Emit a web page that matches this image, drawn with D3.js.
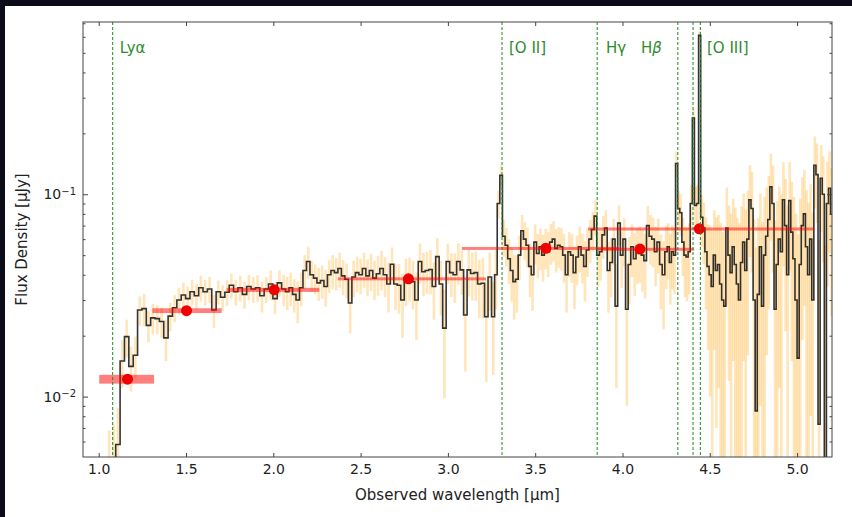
<!DOCTYPE html>
<html>
<head>
<meta charset="utf-8">
<script src="https://cdn.jsdelivr.net/npm/d3@7"></script>
<style>
  html, body { margin: 0; padding: 0; background: #fff; }
  svg { display: block; font-family: "DejaVu Sans", sans-serif; }
</style>
</head>
<body>
<div id="chart"></div>
<script>
// observed spectrum, bin centres in micron
const wave = [
  1.060, 1.085, 1.110, 1.135, 1.160, 1.185, 1.210, 1.235, 1.260, 1.285,
  1.310, 1.335, 1.360, 1.385, 1.410, 1.435, 1.460, 1.485, 1.510, 1.535,
  1.560, 1.585, 1.610, 1.635, 1.660, 1.685, 1.710, 1.735, 1.760, 1.785,
  1.810, 1.835, 1.860, 1.885, 1.910, 1.935, 1.960, 1.985, 2.010, 2.035,
  2.06, 2.08, 2.10, 2.12, 2.14, 2.16, 2.18, 2.20, 2.22, 2.24,
  2.26, 2.28, 2.30, 2.32, 2.34, 2.36, 2.38, 2.40, 2.42, 2.44,
  2.46, 2.48, 2.50, 2.52, 2.54, 2.56, 2.58, 2.60, 2.62, 2.64,
  2.66, 2.68, 2.70, 2.72, 2.74, 2.76, 2.78, 2.80, 2.82, 2.84,
  2.86, 2.88, 2.90, 2.92, 2.94, 2.96, 2.98, 3.00, 3.02, 3.04,
  3.06, 3.08, 3.10, 3.12, 3.14, 3.16, 3.18, 3.20, 3.22, 3.24,
  3.260, 3.275, 3.290, 3.305, 3.320, 3.335, 3.350, 3.365, 3.380, 3.395,
  3.410, 3.425, 3.440, 3.455, 3.470, 3.485, 3.500, 3.515, 3.530, 3.545,
  3.560, 3.575, 3.590, 3.605, 3.620, 3.635, 3.650, 3.665, 3.680, 3.695,
  3.710, 3.725, 3.740, 3.755, 3.770, 3.785, 3.800, 3.815, 3.830, 3.845,
  3.860, 3.875, 3.890, 3.905, 3.920, 3.935, 3.950, 3.965, 3.980, 3.995,
  4.010, 4.025, 4.040, 4.055, 4.070, 4.085, 4.100, 4.115, 4.130, 4.145,
  4.160, 4.175, 4.190, 4.205, 4.220, 4.235, 4.250,
  4.262, 4.274, 4.286, 4.298, 4.310, 4.322, 4.334, 4.346, 4.358, 4.370,
  4.382, 4.394, 4.406, 4.418, 4.430, 4.442, 4.454, 4.466, 4.478, 4.490,
  4.502, 4.514, 4.526, 4.538, 4.550, 4.562, 4.574, 4.586, 4.598, 4.610,
  4.622, 4.634, 4.646, 4.658, 4.670, 4.682, 4.694, 4.706, 4.718, 4.730,
  4.742, 4.754, 4.766, 4.778, 4.790, 4.802, 4.814, 4.826, 4.838, 4.850,
  4.862, 4.874, 4.886, 4.898, 4.910, 4.922, 4.934, 4.946, 4.958, 4.970,
  4.982, 4.994, 5.006, 5.018, 5.030, 5.042, 5.054, 5.066, 5.078, 5.090,
  5.102, 5.114, 5.126, 5.138, 5.150, 5.162, 5.174, 5.186, 5.198
];
// flux density in µJy
const flux = [
  0.0010, 0.0048, 0.0058, 0.0150, 0.0198, 0.0141, 0.0160, 0.0268, 0.0272, 0.0225,
  0.0245, 0.0243, 0.0235, 0.0195, 0.0250, 0.0275, 0.0300, 0.0318, 0.0305, 0.0330,
  0.0315, 0.0345, 0.0330, 0.0340, 0.0268, 0.0330, 0.0310, 0.0328, 0.0355, 0.0330,
  0.0345, 0.0320, 0.0350, 0.0340, 0.0345, 0.0315, 0.0340, 0.0360, 0.0305, 0.0365,
  0.0340, 0.0330, 0.0345, 0.0320, 0.0300, 0.0345, 0.0420, 0.0465, 0.0400, 0.0385,
  0.0365, 0.0375, 0.0350, 0.0400, 0.0420, 0.0410, 0.0430, 0.0395, 0.0380, 0.0290,
  0.0390, 0.0410, 0.0400, 0.0430, 0.0395, 0.0420, 0.0385, 0.0405, 0.0430, 0.0400,
  0.0360, 0.0451, 0.0360, 0.0355, 0.0300, 0.0380, 0.0390, 0.0370, 0.0300, 0.0465,
  0.0414, 0.0420, 0.0425, 0.0350, 0.0492, 0.0360, 0.0218, 0.0465, 0.0410, 0.0400,
  0.0465, 0.0423, 0.0253, 0.0423, 0.0406, 0.0410, 0.0360, 0.0363, 0.0248, 0.0390,
  0.0248, 0.0400, 0.0900, 0.1240, 0.0620, 0.0560, 0.0480, 0.0420, 0.0370, 0.0380,
  0.0500, 0.0660, 0.0600, 0.0560, 0.0440, 0.0400, 0.0580, 0.0510, 0.0550, 0.0500,
  0.0550, 0.0520, 0.0580, 0.0600, 0.0540, 0.0560, 0.0550, 0.0500, 0.0400, 0.0520,
  0.0500, 0.0410, 0.0490, 0.0550, 0.0500, 0.0440, 0.0530, 0.0600, 0.0670, 0.0780,
  0.0500, 0.0520, 0.0630, 0.0680, 0.0420, 0.0460, 0.0600, 0.0280, 0.0720, 0.0500,
  0.0600, 0.0270, 0.0450, 0.0550, 0.0480, 0.0520, 0.0530, 0.0500, 0.0470, 0.0700,
  0.0620, 0.0600, 0.0520, 0.0580, 0.0450, 0.0400, 0.0520,
  0.055, 0.046, 0.052, 0.050, 0.142, 0.085, 0.081, 0.058, 0.050, 0.049,
  0.052, 0.090, 0.238, 0.088, 0.090, 0.610, 0.077, 0.068, 0.052, 0.044,
  0.040, 0.035, 0.050, 0.042, 0.045, 0.036, 0.030, 0.028, 0.068, 0.050,
  0.041, 0.055, 0.045, 0.036, 0.030, 0.046, 0.058, 0.042, 0.060, 0.094,
  0.085, 0.030, 0.0085, 0.032, 0.055, 0.028, 0.050, 0.062, 0.075, 0.109,
  0.090, 0.027, 0.045, 0.060, 0.052, 0.094, 0.070, 0.040, 0.093, 0.065,
  0.048, 0.030, 0.0155, 0.045, 0.070, 0.080, 0.055, 0.040, 0.060, 0.030,
  0.139, 0.125, 0.0073, 0.120, 0.100, 0.003, 0.090, 0.107, 0.080
];
// 1-sigma flux error in µJy
const fluxErr = [
  0.0058, 0.0025, 0.0030, 0.0040, 0.0042, 0.0035, 0.0038, 0.0045, 0.0050, 0.0040,
  0.0042, 0.0040, 0.0040, 0.0045, 0.0040, 0.0042, 0.0045, 0.0048, 0.0045, 0.0048,
  0.0045, 0.0050, 0.0048, 0.0050, 0.0050, 0.0045, 0.0045, 0.0048, 0.0050, 0.0048,
  0.0050, 0.0048, 0.0050, 0.0050, 0.0052, 0.0055, 0.0050, 0.0060, 0.0050, 0.0055,
  0.0060, 0.0062, 0.0065, 0.0060, 0.0070, 0.0065, 0.0080, 0.0085, 0.0070, 0.0065,
  0.0068, 0.0070, 0.0072, 0.0075, 0.0080, 0.0075, 0.0085, 0.0078, 0.0075, 0.0085,
  0.0080, 0.0082, 0.0080, 0.0085, 0.0082, 0.0088, 0.0085, 0.0090, 0.0095, 0.0090,
  0.0100, 0.0095, 0.0092, 0.0098, 0.0105, 0.0100, 0.0095, 0.0100, 0.0110, 0.0105,
  0.0100, 0.0098, 0.0105, 0.0110, 0.0115, 0.0108, 0.0120, 0.0105, 0.0100, 0.0110,
  0.0108, 0.0105, 0.0120, 0.0110, 0.0108, 0.0112, 0.0115, 0.0120, 0.0130, 0.0125,
  0.0120, 0.0130, 0.0140, 0.0150, 0.0130, 0.0120, 0.0120, 0.0125, 0.0130, 0.0120,
  0.0125, 0.0130, 0.0128, 0.0125, 0.0130, 0.0135, 0.0130, 0.0125, 0.0128, 0.0130,
  0.0125, 0.0130, 0.0132, 0.0135, 0.0130, 0.0128, 0.0130, 0.0135, 0.0140, 0.0130,
  0.0135, 0.0140, 0.0135, 0.0140, 0.0138, 0.0145, 0.0140, 0.0145, 0.0150, 0.0155,
  0.0150, 0.0145, 0.0150, 0.0155, 0.0160, 0.0150, 0.0155, 0.0170, 0.0160, 0.0155,
  0.0160, 0.0180, 0.0165, 0.0160, 0.0165, 0.0160, 0.0165, 0.0170, 0.0165, 0.0175,
  0.0170, 0.0165, 0.0170, 0.0175, 0.0180, 0.0185, 0.0180,
  0.0170, 0.0175, 0.0180, 0.0180, 0.0200, 0.0190, 0.0190, 0.0185, 0.0190, 0.0195,
  0.0200, 0.0210, 0.0250, 0.0210, 0.0210, 0.0300, 0.0220, 0.0230, 0.0250, 0.0270,
  0.0300, 0.0320, 0.0330, 0.0350, 0.0340, 0.0360, 0.0350, 0.0380, 0.0400, 0.0380,
  0.0390, 0.0400, 0.0410, 0.0400, 0.0420, 0.0410, 0.0430, 0.0420, 0.0440, 0.0450,
  0.0440, 0.0450, 0.0460, 0.0440, 0.0460, 0.0450, 0.0470, 0.0460, 0.0480, 0.0500,
  0.0490, 0.0470, 0.0480, 0.0490, 0.0480, 0.0500, 0.0490, 0.0480, 0.0510, 0.0500,
  0.0490, 0.0500, 0.0480, 0.0500, 0.0510, 0.0520, 0.0500, 0.0510, 0.0520, 0.0510,
  0.0540, 0.0530, 0.0520, 0.0550, 0.0540, 0.0530, 0.0550, 0.0560, 0.0550
];

// photometry: pivot wavelength, band edges, flux, fractional error
const photWave = [1.165, 1.503, 2.005, 2.774, 3.561, 4.100, 4.440];
const photLo   = [1.003, 1.307, 1.733, 2.370, 3.080, 3.860, 3.802];
const photHi   = [1.317, 1.704, 2.263, 3.218, 3.980, 4.410, 5.097];
const photFlux = [0.0122, 0.0266, 0.0337, 0.0382, 0.0541, 0.0536, 0.0675];
const photErr  = [0.050, 0.027, 0.023, 0.017, 0.015, 0.015, 0.015];

// emission lines at z ~ 7.88
const lineNames = ['Lyα', '[O II]', 'Hγ', 'Hβ', '', '[O III]'];
const lineWave  = [1.080, 3.310, 3.855, 4.317, 4.404, 4.446];
const labelWave = [1.120, 3.350, 3.905, 4.106, 0, 4.484];

const xTicks = [1.0, 1.5, 2.0, 2.5, 3.0, 3.5, 4.0, 4.5, 5.0];
const yMajor = [0.01, 0.1];
const yMinor = [0.006, 0.007, 0.008, 0.009, 0.02, 0.03, 0.04, 0.05, 0.06, 0.07, 0.08, 0.09, 0.2, 0.3, 0.4, 0.5, 0.6, 0.7];

const W = 852, H = 517;
const margin = { top: 22, right: 20, bottom: 60, left: 83 };
const plotW = W - margin.left - margin.right;
const plotH = H - margin.top - margin.bottom;

const svg = d3.select('#chart').append('svg')
  .attr('width', W)
  .attr('height', H);

// dark screenshot border
svg.append('rect').attr('x', 0).attr('y', 0).attr('width', W).attr('height', 6).attr('fill', '#0c0c18');
svg.append('rect').attr('x', 0).attr('y', 0).attr('width', 5).attr('height', H).attr('fill', '#0c0c18');

const x = d3.scaleLinear().domain([0.91, 5.2]).range([0, plotW]);
const y = d3.scaleLog().domain([0.00503, 0.71]).range([plotH, 0]);

svg.append('defs').append('clipPath').attr('id', 'plotclip')
  .append('rect').attr('width', plotW).attr('height', plotH);

const g = svg.append('g').attr('transform', `translate(${margin.left},${margin.top})`);
const plot = g.append('g').attr('clip-path', 'url(#plotclip)');

const spec = wave.map((w, i) => ({ w: w, f: flux[i], e: fluxErr[i] }));

// error bars
plot.append('g').selectAll('line')
  .data(spec)
  .enter()
  .append('line')
  .attr('x1', d => x(d.w))
  .attr('x2', d => x(d.w))
  .attr('y1', d => y(d.f + d.e))
  .attr('y2', d => y(Math.max(d.f - d.e, 1e-4)))
  .attr('stroke', '#ffb232')
  .attr('stroke-opacity', 0.34)
  .attr('stroke-width', 2.6);

// step spectrum
const stepLine = d3.line()
  .x(d => x(d.w))
  .y(d => y(Math.max(d.f, 1e-4)))
  .curve(d3.curveStep);

plot.append('path')
  .datum(spec)
  .attr('fill', 'none')
  .attr('stroke', '#111')
  .attr('stroke-opacity', 0.85)
  .attr('stroke-width', 1.6)
  .attr('d', stepLine);

// photometry
const phot = photWave.map((w, i) => ({ w: w, lo: photLo[i], hi: photHi[i], f: photFlux[i], e: photErr[i] }));

plot.append('g').selectAll('rect')
  .data(phot)
  .enter()
  .append('rect')
  .attr('x', d => x(d.lo))
  .attr('width', d => x(d.hi) - x(d.lo))
  .attr('y', d => y(d.f * (1 + d.e)))
  .attr('height', d => Math.max(3, y(d.f * (1 - d.e)) - y(d.f * (1 + d.e))))
  .attr('fill', '#ff0000')
  .attr('fill-opacity', 0.5);

plot.append('g').selectAll('circle')
  .data(phot)
  .enter()
  .append('circle')
  .attr('cx', d => x(d.w))
  .attr('cy', d => y(d.f))
  .attr('r', 5.5)
  .attr('fill', '#f00000');

// emission lines
plot.append('g').selectAll('line')
  .data(lineWave)
  .enter()
  .append('line')
  .attr('x1', d => x(d))
  .attr('x2', d => x(d))
  .attr('y1', 0)
  .attr('y2', plotH)
  .attr('stroke', '#1f8a1f')
  .attr('stroke-width', 1)
  .attr('stroke-dasharray', '3,2');

lineNames.forEach((name, i) => {
  if (!name) return;
  const t = g.append('text')
    .attr('x', x(labelWave[i]))
    .attr('y', 31)
    .style('font-size', '15px')
    .style('fill', '#2e8b2e');
  if (name === 'Hβ') {
    t.append('tspan').text('H');
    t.append('tspan').style('font-style', 'italic').text('β');
  } else {
    t.text(name);
  }
});

// axes, ticks pointing inward
function styleAxis(sel) {
  sel.select('.domain').remove();
  sel.selectAll('line').attr('stroke', '#444');
  sel.selectAll('text').style('font-size', '14px').style('fill', '#222').style('font-family', '"DejaVu Sans", sans-serif');
}

g.append('g')
  .attr('transform', `translate(0,${plotH})`)
  .call(d3.axisBottom(x).tickValues(xTicks).tickSize(-4).tickPadding(7).tickFormat(d3.format('.1f')))
  .call(styleAxis);

g.append('g')
  .call(d3.axisTop(x).tickValues(xTicks).tickSize(-4).tickFormat(''))
  .call(styleAxis);

const yAxis = g.append('g')
  .call(d3.axisLeft(y).tickValues(yMajor).tickSize(-5).tickPadding(7).tickFormat(''))
  .call(styleAxis);

yAxis.selectAll('.tick text').each(function (d) {
  const t = d3.select(this);
  t.append('tspan').text('10');
  t.append('tspan').attr('dy', '-0.45em').style('font-size', '10px').text('−' + Math.round(-Math.log10(d)));
});

g.append('g')
  .call(d3.axisLeft(y).tickValues(yMinor).tickSize(-2.5).tickFormat(''))
  .call(styleAxis);

g.append('g')
  .attr('transform', `translate(${plotW},0)`)
  .call(d3.axisRight(y).tickValues(yMajor).tickSize(-5).tickFormat(''))
  .call(styleAxis);

g.append('g')
  .attr('transform', `translate(${plotW},0)`)
  .call(d3.axisRight(y).tickValues(yMinor).tickSize(-2.5).tickFormat(''))
  .call(styleAxis);

// frame
g.append('rect')
  .attr('width', plotW)
  .attr('height', plotH)
  .attr('fill', 'none')
  .attr('stroke', '#444')
  .attr('stroke-width', 1);

// axis labels
g.append('text')
  .attr('x', plotW / 2)
  .attr('y', plotH + 43)
  .attr('text-anchor', 'middle')
  .style('font-size', '15px')
  .style('fill', '#222')
  .text('Observed wavelength [µm]');

g.append('text')
  .attr('transform', `translate(${-56},${plotH / 2}) rotate(-90)`)
  .attr('text-anchor', 'middle')
  .style('font-size', '15px')
  .style('fill', '#222')
  .text('Flux Density [µJy]');
</script>
</body>
</html>
